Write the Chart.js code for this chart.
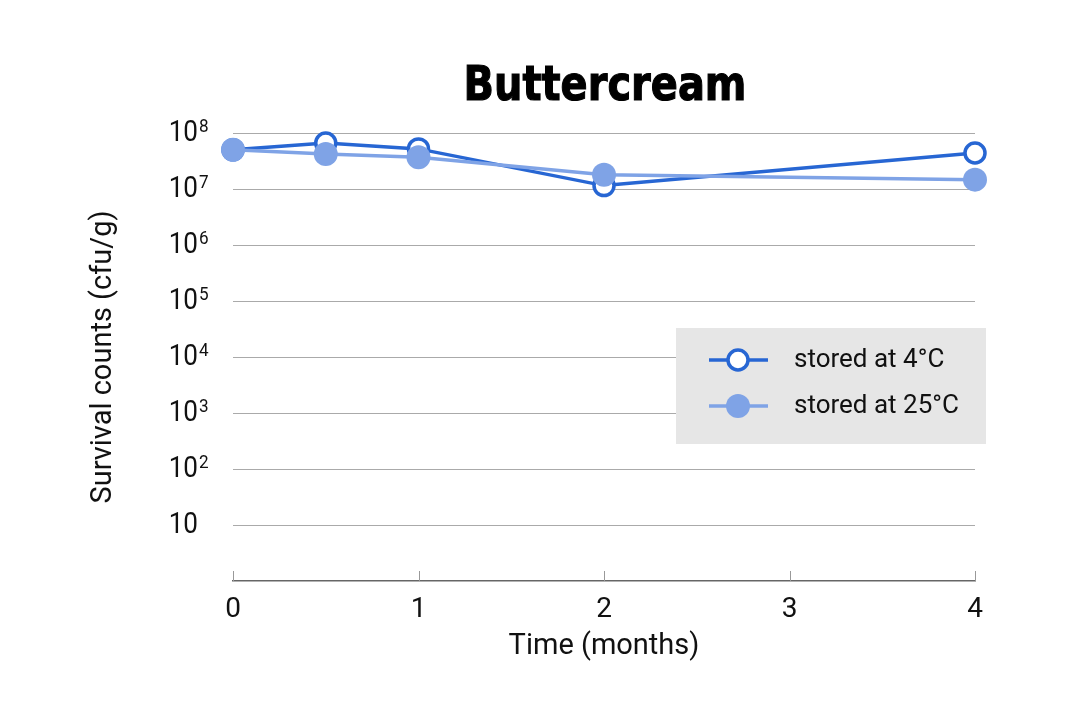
<!DOCTYPE html>
<html>
<head>
<meta charset="utf-8">
<script src="https://cdn.jsdelivr.net/npm/chart.js@4/dist/chart.umd.min.js"></script>
<style>
  html, body { margin: 0; padding: 0; background: #fff; }
  #wrap { width: 1075px; height: 720px; }
</style>
</head>
<body>
<div id="wrap"><canvas id="chart"></canvas></div>
<script>
/* data */
var months = [0, 0.5, 1, 2, 4];
var counts4C = [5.0e7, 6.6e7, 5.2e7, 1.15e7, 4.4e7];
var counts25C = [5.0e7, 4.2e7, 3.7e7, 1.8e7, 1.47e7];
var seriesNames = ['stored at 4°C', 'stored at 25°C'];
var yTickExps = [1, 2, 3, 4, 5, 6, 7, 8];
var xTicks = [0, 1, 2, 3, 4];

var darkBlue = '#2766d3';
var lightBlue = '#7fa3e6';
var font = 'Roboto';

function pts(ys) {
    return months.map(function (m, i) { return { x: m, y: ys[i] }; });
}

/* title, y tick labels (with superscripts), inward x ticks, legend box */
var extras = {
    id: 'extras',
    afterDraw: function (chart) {
        var c = chart.ctx;
        var ys = chart.scales.y, xs = chart.scales.x;
        c.save();

        // title: heavy, condensed
        c.fillStyle = '#000';
        c.strokeStyle = '#000';
        c.lineWidth = 1.2;
        c.font = 'bold 48px "DejaVu Sans", sans-serif';
        c.textAlign = 'center';
        c.textBaseline = 'alphabetic';
        var w = c.measureText('Buttercream').width;
        c.save();
        c.translate(605, 100);
        c.scale(283 / w, 1);
        c.fillText('Buttercream', 0, 0);
        c.strokeText('Buttercream', 0, 0);
        c.restore();

        c.fillStyle = '#111';
        yTickExps.forEach(function (e) {
            var py = ys.getPixelForValue(Math.pow(10, e));
            c.save();
            c.translate(198, py);
            c.scale(0.9, 1);
            c.font = '29px ' + font;
            c.textAlign = 'right';
            c.textBaseline = 'middle';
            c.fillText('10', 0, 1);
            if (e > 1) {
                c.font = '19px ' + font;
                c.textAlign = 'left';
                c.textBaseline = 'top';
                c.fillText(String(e), 1, -15);
            }
            c.restore();
        });

        c.strokeStyle = '#999';
        c.lineWidth = 1;
        xTicks.forEach(function (v) {
            var px = Math.round(xs.getPixelForValue(v)) + 0.5;
            c.beginPath();
            c.moveTo(px, ys.bottom);
            c.lineTo(px, ys.bottom - 10);
            c.stroke();
        });

        c.fillStyle = '#e6e6e6';
        c.fillRect(676, 328, 310, 116);
        chart.data.datasets.forEach(function (ds, i) {
            var ly = 360 + i * 46;
            c.strokeStyle = ds.borderColor;
            c.lineWidth = ds.borderWidth;
            c.beginPath();
            c.moveTo(709, ly);
            c.lineTo(768, ly);
            c.stroke();
            c.beginPath();
            c.arc(738, ly, ds.pointRadius, 0, Math.PI * 2);
            c.fillStyle = ds.pointBackgroundColor;
            c.fill();
            if (ds.pointBorderWidth > 0) {
                c.lineWidth = ds.pointBorderWidth;
                c.strokeStyle = ds.pointBorderColor;
                c.stroke();
            }
            c.fillStyle = '#111';
            c.font = '26px ' + font;
            c.textAlign = 'left';
            c.textBaseline = 'middle';
            c.fillText(ds.label, 794, ly);
        });
        c.restore();
    }
};

var ctx = document.getElementById('chart').getContext('2d');
var myChart = new Chart(ctx, {
    type: 'line',
    data: {
        datasets: [{
            label: seriesNames[0],
            data: pts(counts4C),
            borderColor: darkBlue,
            borderWidth: 3.5,
            pointRadius: 10,
            pointBackgroundColor: '#ffffff',
            pointBorderColor: darkBlue,
            pointBorderWidth: 3.5,
            order: 2,
            clip: false
        }, {
            label: seriesNames[1],
            data: pts(counts25C),
            borderColor: lightBlue,
            borderWidth: 3.5,
            pointRadius: 12,
            pointBackgroundColor: lightBlue,
            pointBorderColor: lightBlue,
            pointBorderWidth: 0,
            order: 1,
            clip: false
        }]
    },
    options: {
        responsive: true,
        maintainAspectRatio: false,
        animation: false,
        layout: { padding: { left: 0, right: 100, top: 133, bottom: 0 } },
        plugins: {
            legend: { display: false },
            tooltip: { enabled: false }
        },
        scales: {
            x: {
                type: 'linear',
                min: 0,
                max: 4,
                ticks: {
                    stepSize: 1,
                    color: '#111',
                    font: { family: font, size: 28 },
                    padding: 12
                },
                grid: { drawOnChartArea: false, drawTicks: false },
                border: { color: '#666', width: 1.5 },
                title: {
                    display: true,
                    text: 'Time (months)',
                    color: '#111',
                    font: { family: font, size: 29 },
                    padding: { top: 4, bottom: 56 }
                },
                afterFit: function (s) { s.height = 720 - 581; }
            },
            y: {
                type: 'logarithmic',
                min: 1,
                max: 1e8,
                afterBuildTicks: function (s) {
                    s.ticks = [0].concat(yTickExps).map(function (e) { return { value: Math.pow(10, e) }; });
                },
                ticks: { display: false },
                grid: {
                    drawTicks: false,
                    lineWidth: 1,
                    color: function (c) { return c.tick && c.tick.value === 1 ? 'rgba(0,0,0,0)' : '#aaaaaa'; }
                },
                border: { display: false },
                title: {
                    display: true,
                    text: 'Survival counts (cfu/g)',
                    color: '#111',
                    font: { family: font, size: 29 },
                    padding: { top: 86, bottom: 0 }
                },
                afterFit: function (s) { s.width = 233; }
            }
        }
    },
    plugins: [extras]
});
</script>
</body>
</html>
